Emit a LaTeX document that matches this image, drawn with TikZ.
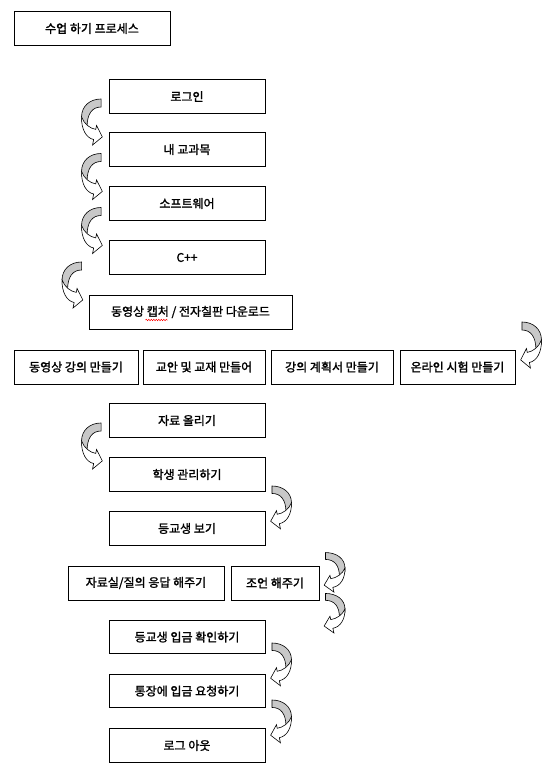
\documentclass[tikz,border=0pt]{standalone}
\usepackage{fontspec}
\newfontfamily\kr{Noto Sans CJK KR}[FakeBold=1.6]
\usetikzlibrary{calc,decorations.pathmorphing}
\definecolor{backgray}{RGB}{200,200,200}
\tikzset{
  box/.style={draw, line width=0.9pt, inner sep=0pt, minimum height=33.5pt,
    font=\kr\fontsize{12}{14}\selectfont},
  carrow/.pic={
    \filldraw[fill=backgray, draw=black, line width=0.6pt]
      (0,0) .. controls (-11,0) and (-19.5,7) .. (-19.5,18)
      -- (-19.5,22) -- (-14,28)
      .. controls (-14,15) and (-9,8) .. (0,8) -- cycle;
    \filldraw[fill=white, draw=black, line width=0.6pt, line join=miter]
      (-19.5,18) .. controls (-19.8,30) and (-15,39) .. (-7.4,40.5)
      -- (-8.5,46) -- (1.3,37.9) -- (-4.5,26.5) -- (-5.3,30.4)
      .. controls (-11,29.5) and (-17,25) .. (-19.5,18) -- cycle;
  }
}
\begin{document}
\begin{tikzpicture}[x=1pt,y=-1pt]
\fill[white] (0,0) rectangle (551,773);
\useasboundingbox (0,0) rectangle (551,773);

\node[box, minimum width=156pt] (title) at (92,28.5) {수업 하기 프로세스};
\node[box, minimum width=156pt] (login) at (187,96.5) {로그인};
\node[box, minimum width=156pt] (course) at (187,149.5) {내 교과목};
\node[box, minimum width=156pt] (sw) at (187,203.5) {소프트웨어};
\node[box, minimum width=156pt] (cpp) at (187,257.5) {C++};
\node[box, minimum width=203pt, minimum height=34pt] (video) at (190.5,312) {동영상 캡처 / 전자칠판 다운로드};
\node[box, minimum width=124pt, minimum height=34pt] (r1) at (76,367) {동영상 강의 만들기};
\node[box, minimum width=122pt, minimum height=34pt] (r2) at (204,367) {교안 및 교재 만들어};
\node[box, minimum width=122pt, minimum height=34pt] (r3) at (332,367) {강의 계획서 만들기};
\node[box, minimum width=115pt, minimum height=34pt] (r4) at (457.5,367) {온라인 시험 만들기};
\node[box, minimum width=156pt] (upload) at (187,420.5) {자료 올리기};
\node[box, minimum width=156pt] (student) at (187,474.5) {학생 관리하기};
\node[box, minimum width=156pt] (attend) at (187,528.5) {등교생 보기};
\node[box, minimum width=156pt, minimum height=34pt] (qa) at (146,583) {자료실/질의 응답 해주기};
\node[box, minimum width=88pt, minimum height=34pt] (advice) at (275,583) {조언 해주기};
\node[box, minimum width=156pt] (pay) at (187,637) {등교생 입금 확인하기};
\node[box, minimum width=156pt] (bank) at (187,691) {통장에 입금 요청하기};
\node[box, minimum width=156pt] (logout) at (187,745.5) {로그 아웃};

% spell-check squiggle under the word
\draw[red, line width=0.5pt, decorate, decoration={snake, amplitude=0.7pt, segment length=2.5pt}]
  ($(video.center)+(-45,8)$) -- ($(video.center)+(-23,8)$);

% curved block arrows (left side, curving left)
\pic at ($(login.west)+(-7.5,2.5)$) {carrow};
\pic at ($(course.west)+(-7.5,4)$) {carrow};
\pic at ($(sw.west)+(-7.5,4)$) {carrow};
\pic at ($(cpp.west)+(-27,4.5)$) {carrow};
\pic at ($(upload.west)+(-7.5,2.5)$) {carrow};
% right side, curving right
\pic[xscale=-1] at ($(r4.east)+(6.5,-45)$) {carrow};
\pic[xscale=-1, yscale=0.93] at ($(student.east)+(6.5,11.5)$) {carrow};
\pic[xscale=-1, yscale=0.86] at ($(advice.north east)+(6,-13)$) {carrow};
\pic[xscale=-1, yscale=0.86] at ($(advice.south east)+(6,-7)$) {carrow};
\pic[xscale=-1, yscale=0.93] at ($(pay.east)+(6.5,6)$) {carrow};
\pic[xscale=-1, yscale=0.93] at ($(bank.east)+(6.5,9)$) {carrow};
\end{tikzpicture}
\end{document}
